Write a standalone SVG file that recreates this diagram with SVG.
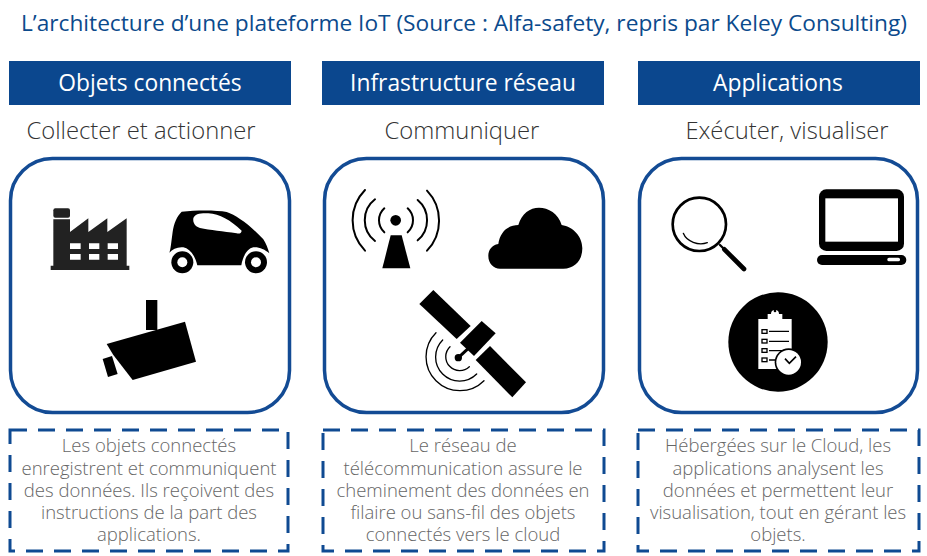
<svg xmlns="http://www.w3.org/2000/svg" width="927" height="556" viewBox="0 0 927 556">
<style>
text{font-family:"Open Sans","Liberation Sans",sans-serif;text-anchor:middle}
.title{font-size:22.7px;fill:#0b4a8c}
.hdr{fill:#0b478e}
.hl{font-size:22.8px;fill:#fff}
.sub{font-size:23.8px;fill:#333;font-weight:300}
.panel{fill:#fff;stroke:#134b94;stroke-width:3.5}
.note{fill:#fff;stroke:#0f4a92;stroke-width:3;stroke-dasharray:17 11}
.desc{font-size:18.5px;fill:#666;font-weight:300}
.ln{fill:none;stroke:#000;stroke-linecap:round}
</style>
<rect width="927" height="556" fill="#fff"/>
<text class="title" x="464" y="31">L’architecture d’une plateforme IoT (Source : Alfa-safety, repris par Keley Consulting)</text>

<g id="objets">
<rect class="hdr" x="9" y="61" width="282" height="44"/>
<text class="hl" x="150" y="91">Objets connectés</text>
<text class="sub" x="141" y="139">Collecter et actionner</text>
<rect class="panel" x="10.5" y="158.5" width="279" height="254" rx="42"/>
<g transform="translate(20 170) scale(.33333)">
<path fill="#222" fill-rule="evenodd" d="M92 300V287H100V148H150V186L205 145V186L262 145V186L320 145V287H328V300ZM150 220V237H182V220ZM207 220V237H238V220ZM263 220V237H294V220ZM150 252V269H182V252ZM207 252V269H238V252ZM263 252V269H294V252Z"/>
<rect x="100" y="115" width="50" height="28" rx="6" fill="#222"/>
<path d="M448 248C452 240 454 215 458 185C462 160 470 140 485 125C530 120 590 120 620 126C650 136 690 165 730 208C738 220 744 236 748 250C735 238 715 230 700 232C680 236 668 262 664 286H532C526 258 510 236 490 232C472 230 458 238 448 248Z"/>
<path fill="#fff" d="M520 145C524 132 540 129 565 130C600 132 630 150 665 182C664 190 658 192 650 190C610 184 570 180 540 174C525 170 518 158 520 145Z"/>
<circle cx="487" cy="277" r="33"/><circle cx="487" cy="277" r="15" fill="#fff"/>
<circle cx="708" cy="277" r="33"/><circle cx="708" cy="277" r="15" fill="#fff"/>
<rect x="378" y="390" width="34" height="90"/>
<path d="M260 522L495 455L528 575L338 630L280 555Z"/>
<path d="M248 567L276 558L293 612L264 621Z"/>
</g>
<rect class="note" x="10" y="430" width="278" height="121"/>
<text class="desc"><tspan x="149" y="452">Les objets connectés</tspan><tspan x="149" y="475">enregistrent et communiquent</tspan><tspan x="149" y="497">des données. Ils reçoivent des</tspan><tspan x="149" y="519">instructions de la part des</tspan><tspan x="149" y="541">applications.</tspan></text>
</g>

<g id="reseau">
<rect class="hdr" x="322" y="61" width="282" height="44"/>
<text class="hl" x="463" y="91">Infrastructure réseau</text>
<text class="sub" x="462" y="139">Communiquer</text>
<rect class="panel" x="324.5" y="158.5" width="279" height="254" rx="42"/>
<g transform="translate(330 170) scale(.33333)">
<circle cx="197" cy="151" r="16"/>
<path d="M182 196H215L241 295H157Z"/>
<g class="ln" stroke-width="6">
<path d="M105 60A130 130 0 0 0 105 242M135 88A79 79 0 0 0 135 213M163 115A48.5 48.5 0 0 0 163 187"/>
<path d="M291 62A130 130 0 0 1 291 242M263 90A79 79 0 0 1 263 211M233 115A48.5 48.5 0 0 1 233 187"/>
</g>
<path d="M510 296H700C735 296 757 270 757 235C757 200 730 170 695 165C685 130 655 113 627 113C600 113 575 130 565 165C535 165 510 185 505 222C485 225 475 240 475 258C475 280 490 296 510 296Z"/>
<path d="M268 402L310 360L422 468L380 507Z"/>
<path d="M390 518L455 453L497 490L432 558Z"/>
<path d="M480 528L588 637L547 682L437 570Z"/>
<circle cx="385" cy="563" r="11"/>
<path d="M385 563L415 535" stroke="#000" stroke-width="9"/>
<g class="ln" stroke-width="4">
<path d="M318 488A100 100 0 1 0 462 632M338 510A71 71 0 1 0 440 612M360 530A38 38 0 1 0 418 590"/>
</g>
</g>
<rect class="note" x="323" y="430" width="281" height="121"/>
<text class="desc"><tspan x="463" y="452">Le réseau de</tspan><tspan x="463" y="475">télécommunication assure le</tspan><tspan x="463" y="497">cheminement des données en</tspan><tspan x="463" y="519">filaire ou sans-fil des objets</tspan><tspan x="463" y="541">connectés vers le cloud</tspan></text>
</g>

<g id="applications">
<rect class="hdr" x="638" y="61" width="282" height="44"/>
<text class="hl" x="778" y="91">Applications</text>
<text class="sub" x="787" y="139">Exécuter, visualiser</text>
<rect class="panel" x="639.5" y="158.5" width="278" height="254" rx="42"/>
<g transform="translate(645 170) scale(.33333)">
<circle cx="163" cy="163" r="80" fill="none" stroke="#000" stroke-width="8"/>
<path class="ln" stroke-width="4" d="M115 190C125 215 160 228 187 218"/>
<path class="ln" stroke-width="7" d="M225 225L240 240"/>
<path class="ln" stroke-width="14" d="M238 238L297 297"/>
<rect x="522" y="58" width="255" height="185" rx="22"/>
<rect x="541" y="85" width="218" height="130" fill="#fff"/>
<rect x="516" y="255" width="268" height="30" rx="15"/>
<rect x="727" y="263" width="38" height="11" rx="5" fill="#fff"/>
<circle cx="399" cy="516" r="149"/>
<path fill="#fff" d="M340 447H368V432H378A12 12 0 0 1 402 432H412V447H440V597H340Z"/>
<circle cx="390" cy="423" r="4"/>
<g stroke="#000" stroke-width="4" fill="none">
<path d="M372 484H432M372 514H432M372 542H432M372 570H432"/>
<rect x="351" y="479" width="15" height="11"/><rect x="351" y="508" width="15" height="11"/><rect x="351" y="536" width="15" height="11"/><rect x="351" y="564" width="15" height="11"/>
</g>
<circle cx="431" cy="577" r="42"/>
<circle cx="431" cy="577" r="37" fill="#fff"/>
<path d="M420 566L433 580L453 560" fill="none" stroke="#000" stroke-width="5"/>
</g>
<rect class="note" x="638" y="430" width="281" height="121"/>
<text class="desc"><tspan x="778" y="452">Hébergées sur le Cloud, les</tspan><tspan x="778" y="475">applications analysent les</tspan><tspan x="778" y="497">données et permettent leur</tspan><tspan x="778" y="519">visualisation, tout en gérant les</tspan><tspan x="778" y="541">objets.</tspan></text>
</g>
<g id="connectors"/>
</svg>
